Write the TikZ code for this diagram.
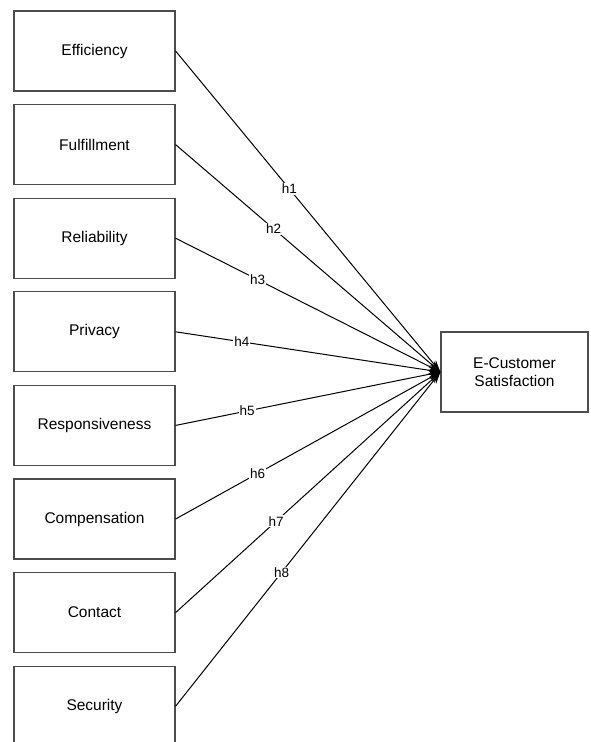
\documentclass[tikz,border=0pt]{standalone}
\usepackage{fontspec}
\setmainfont{Liberation Sans}
\usetikzlibrary{arrows.meta}
\tikzset{
  factor/.style={
    draw=black!70,
    line width=1.2pt,
    minimum width=161pt,
    minimum height=80pt,
    inner sep=0pt,
    font=\fontsize{15.5}{18}\selectfont
  },
  outcome/.style={factor, minimum width=147pt, align=center},
  link/.style={line width=1pt, -{Stealth[length=12pt,width=8pt]}},
  hyp/.style={fill=white, inner sep=1pt, font=\fontsize{13.5}{15}\selectfont}
}

\begin{document}
\begin{tikzpicture}[x=1pt,y=-1pt]
  \useasboundingbox (0,0) rectangle (590,742);
  % dimension boxes, one under the other
  \foreach \nm/\i/\txt in {eff/0/Efficiency, ful/1/Fulfillment, rel/2/Reliability,
      pri/3/Privacy, res/4/Responsiveness, com/5/Compensation, con/6/Contact, sec/7/Security} {
    \node[factor] (\nm) at (94.5, 51+93.6*\i) {\txt};
  }
  \node[outcome] (sat) at (514.5,372) {E-Customer\\Satisfaction};
  % hypotheses h1..h8
  \foreach \nm/\lbl/\p in {eff/h1/0.43, ful/h2/0.37, rel/h3/0.31, pri/h4/0.25,
      res/h5/0.27, com/h6/0.31, con/h7/0.38, sec/h8/0.40} {
    \draw[link] (\nm.east) -- node[hyp, pos=\p] {\lbl} (sat.west);
  }
\end{tikzpicture}
\end{document}
